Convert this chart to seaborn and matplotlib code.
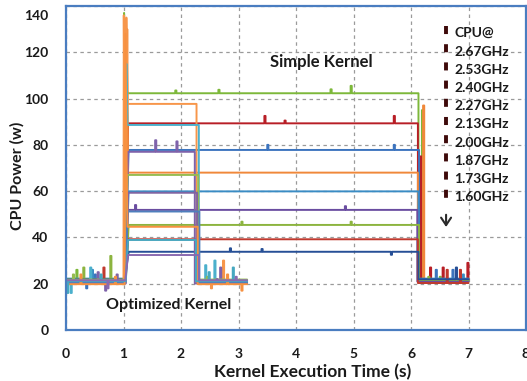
import matplotlib
matplotlib.use("Agg")
import matplotlib.pyplot as plt
import matplotlib.transforms as mtransforms
import numpy as np
import pandas as pd
import seaborn as sns

# ---------------------------------------------------------------- data
freq_labels = ["2.67GHz", "2.53GHz", "2.40GHz", "2.27GHz", "2.13GHz",
               "2.00GHz", "1.87GHz", "1.73GHz", "1.60GHz"]

# steady power while the kernel runs (W)
simple_watts = [102.3, 89.3, 77.8, 68.0, 59.9, 51.9, 45.4, 39.2, 33.8]
optimized_watts = [97.7, 88.6, 77.0, 67.0, 59.3, 51.2, 44.6, 38.9, 32.4]

# idle baseline before / after the kernel (W)
simple_idle = [21.0, 21.8, 21.3, 20.6, 22.2, 21.0, 21.6, 20.3, 21.9]
optimized_idle = [20.4, 21.4, 20.1, 21.8, 20.9, 20.6, 19.8, 21.1, 21.5]

# timing of each trace (s)
simple_rise = [1.02, 1.03, 1.02, 1.01, 1.03, 1.02, 1.04, 1.03, 1.02]
simple_on = [1.08, 1.08, 1.09, 1.08, 1.09, 1.08, 1.09, 1.08, 1.09]
simple_off = [6.13, 6.12, 6.14, 6.12, 6.13, 6.11, 6.14, 6.12, 6.13]
optimized_rise = [1.00, 1.03, 1.04, 1.03, 1.04, 1.03, 1.02, 1.04, 1.03]
optimized_on = [1.07, 1.07, 1.08, 1.07, 1.08, 1.07, 1.07, 1.08, 1.08]
optimized_off = [2.27, 2.31, 2.24, 2.30, 2.28, 2.32, 2.29, 2.26, 2.31]
simple_trace_end = 7.0
optimized_trace_end = 3.15

# surge when the kernel launches: (kernel, frequency index) -> [(t, W)]
launch_surge = {
    ("simple", 0): [(1.01, 137.0), (1.04, 104.0)],
    ("simple", 3): [(1.02, 133.0), (1.045, 40.0), (1.065, 130.0)],
    ("optimized", 0): [(1.005, 136.0), (1.03, 28.0), (1.05, 135.0)],
    ("optimized", 6): [(1.035, 128.0), (1.06, 60.0)],
    ("optimized", 1): [(1.05, 115.0)],
}

# short glitches in the power readings: (kernel, frequency index) -> [(t, W)]
glitches = {
    ("simple", 0): [(0.18, 26.0), (1.9, 103.5), (2.65, 103.8), (4.6, 104.0),
                    (4.95, 105.5), (6.19, 95.0), (6.5, 23.0)],
    ("simple", 1): [(3.45, 92.5), (3.8, 90.5), (5.7, 92.5), (6.16, 75.0),
                    (6.33, 27.0), (6.55, 27.0), (6.98, 29.0)],
    ("simple", 2): [(0.35, 18.0), (0.5, 24.0), (3.5, 80.0), (5.7, 80.0),
                    (6.43, 26.0), (6.72, 26.0)],
    ("simple", 3): [(6.21, 97.0)],
    ("simple", 4): [(0.45, 26.0), (6.9, 24.0)],
    ("simple", 5): [(1.2, 54.0), (4.85, 53.5)],
    ("simple", 6): [(0.30, 27.0), (0.77, 32.0), (3.05, 46.8), (4.95, 46.8),
                    (6.3, 23.0)],
    ("simple", 7): [(0.65, 27.0), (6.62, 26.0), (6.85, 26.0)],
    ("simple", 8): [(2.85, 35.3), (3.4, 35.0), (5.65, 32.5), (6.78, 27.0)],
    ("optimized", 0): [(2.52, 18.0), (2.73, 30.0)],
    ("optimized", 1): [(0.08, 16.0), (0.42, 27.0), (2.42, 28.0), (2.58, 30.0)],
    ("optimized", 2): [(0.55, 25.0), (0.68, 17.0), (1.55, 82.0), (1.92, 81.5),
                       (2.68, 27.0)],
    ("optimized", 3): [(0.12, 24.0), (2.45, 23.0)],
    ("optimized", 4): [(0.88, 24.0), (2.62, 22.0)],
    ("optimized", 6): [(0.25, 24.0), (0.85, 23.0), (2.8, 24.0), (3.05, 17.0)],
    ("optimized", 7): [(0.02, 16.0), (0.6, 24.0), (2.48, 25.0), (2.9, 27.0)],
    ("optimized", 8): [(0.72, 18.0), (2.95, 23.0)],
}

simple_colors = ["#7DB83A", "#B81E26", "#3C74BE", "#F0883A", "#3A8CC4",
                 "#6A4DA0", "#8CB43F", "#C0392E", "#264F96"]
optimized_colors = ["#F7964A", "#4BB0CC", "#7E62AA", "#95BC52", "#8064A2",
                    "#4F7FBD", "#F79140", "#46A8C0", "#8A6AB0"]

# ---------------------------------------------------------------- traces
GLITCH_W = 0.02


def build_trace(kernel, i):
    if kernel == "simple":
        level, base = simple_watts[i], simple_idle[i]
        rise, on, off, end = simple_rise[i], simple_on[i], simple_off[i], simple_trace_end
    else:
        level, base = optimized_watts[i], optimized_idle[i]
        rise, on, off, end = (optimized_rise[i], optimized_on[i],
                              optimized_off[i], optimized_trace_end)
    g = sorted(glitches.get((kernel, i), []))
    pts = [(0.0, base)]

    def add_glitch(t, w, b):
        pts.extend([(t, b), (t, w), (t + GLITCH_W, w), (t + GLITCH_W, b)])

    for t, w in g:
        if t < rise:
            add_glitch(t, w, base)
    pts.append((rise, base))
    pts.extend(launch_surge.get((kernel, i), []))
    pts.append((on, level))
    for t, w in g:
        if on < t < off:
            add_glitch(t, w, level)
    pts.extend([(off, level), (off, base)])
    for t, w in g:
        if t > off:
            add_glitch(t, w, base)
    pts.append((end, base))
    name = f"{kernel} {freq_labels[i]}"
    return [(name, t, w) for t, w in pts]


rows = []
palette = {}
order = []
for kernel, colors in (("simple", simple_colors), ("optimized", optimized_colors)):
    for i in range(len(freq_labels)):
        rows.extend(build_trace(kernel, i))
        name = f"{kernel} {freq_labels[i]}"
        palette[name] = colors[i]
        order.append(name)
df = pd.DataFrame(rows, columns=["trace", "time", "power"])

# ---------------------------------------------------------------- figure
sns.set_theme(style="white")
plt.rcParams["font.family"] = ["Lato", "DejaVu Sans"]
plt.rcParams["lines.scale_dashes"] = False

W, H = 527, 381
fig = plt.figure(figsize=(W / 100, H / 100), dpi=100)
ax = fig.add_axes([66 / W, 1 - 330 / H, (526 - 66) / W, (330 - 6) / H])

sns.lineplot(data=df, x="time", y="power", hue="trace", hue_order=order,
             palette=palette, sort=False, estimator=None, legend=False,
             linewidth=1.4, ax=ax)

ax.set_xlim(0, 8)
ax.set_ylim(0, 140)
ax.set_xticks(range(0, 9))
ax.set_yticks(range(0, 141, 20))
ax.grid(True, color="#9A9A9A", linestyle=(0, (2.5, 2.5)), linewidth=0.9)
ax.set_axisbelow(True)
for s in ax.spines.values():
    s.set_color("#4A7DC0")
    s.set_linewidth(1.6)
ax.tick_params(axis="both", direction="out", length=4, width=0.8,
               color="#9A9A9A", labelsize=10, labelcolor="#1A1A1A")
ax.tick_params(axis="y", pad=8.5)
ax.tick_params(axis="x", pad=9)
for lab in ax.get_xticklabels() + ax.get_yticklabels():
    lab.set_fontweight("bold")
# top tick label sits just inside the frame
top = ax.get_yticklabels()[-1]
top.set_transform(top.get_transform() +
                  mtransforms.ScaledTranslation(0, -9 / 100, fig.dpi_scale_trans))

ax.set_xlabel("Kernel Execution Time (s)", fontsize=12.5, fontweight="bold",
              color="#1A1A1A")
ax.set_ylabel("CPU Power (w)", fontsize=11.5, fontweight="bold", color="#1A1A1A")
ax.xaxis.set_label_coords((313 - 66) / 460, -0.105)
ax.yaxis.set_label_coords(-0.09, 0.477)

ax.text(4.44, 115.8, "Simple Kernel", fontsize=12, fontweight="bold",
        ha="center", va="center", color="#1A1A1A")
ax.text(0.69, 10.8, "Optimized Kernel", fontsize=11.5, fontweight="bold",
        ha="left", va="center", color="#1A1A1A")

# frequency key with the dashed marker and arrow
key_y = [120.1, 112.4, 104.6, 96.8, 89.0, 80.8, 73.0, 65.3, 57.5]
ax.text(6.75, 128.3, "CPU@", fontsize=10, fontweight="bold", ha="left",
        va="center", color="#1A1A1A")
for y, lab in zip(key_y, freq_labels):
    ax.text(6.75, y, lab, fontsize=10, fontweight="bold", ha="left",
            va="center", color="#1A1A1A")
ax.plot([6.61, 6.61], [131.5, 54.0], color="#3E0A0A", linewidth=2.8,
        dashes=(5.8, 7.3), solid_capstyle="butt", dash_capstyle="butt")
ax.annotate("", xy=(6.61, 43.3), xytext=(6.61, 51.0),
            arrowprops=dict(arrowstyle="->,head_length=0.45,head_width=0.3",
                            color="#2A2A2A", linewidth=1.5))

fig.savefig("out.png", dpi=100)
